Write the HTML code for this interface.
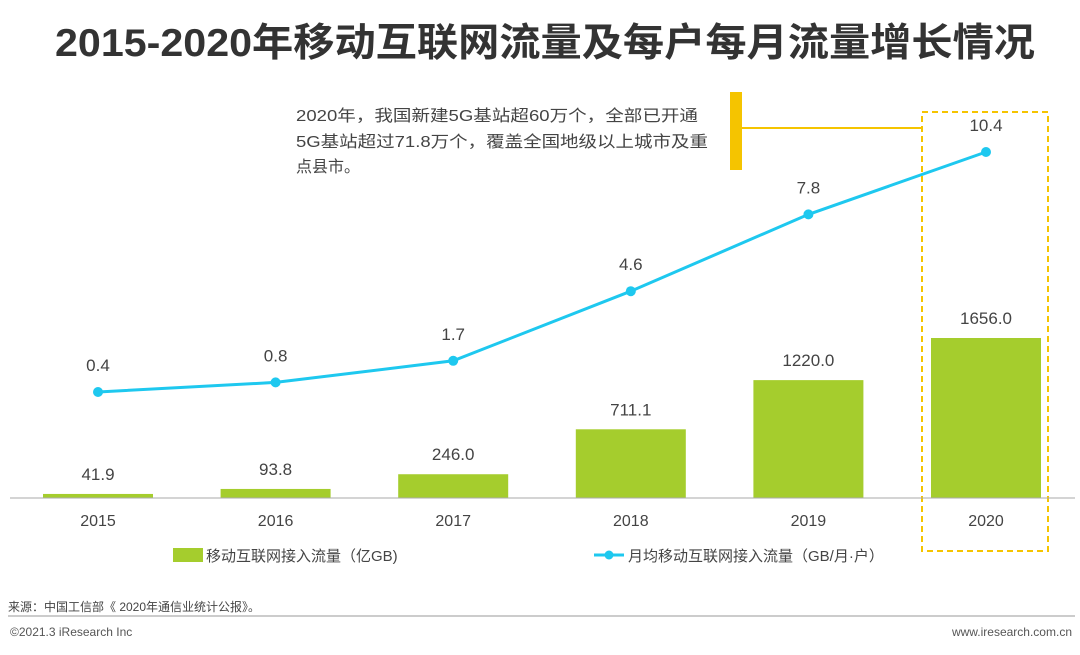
<!DOCTYPE html>
<html><head><meta charset="utf-8"><style>
body{margin:0;width:1080px;height:650px;background:#fff;overflow:hidden;font-family:"Liberation Sans","Noto Sans CJK SC",sans-serif;}
</style></head><body>
<svg width="1080" height="650" xmlns="http://www.w3.org/2000/svg" font-family="Liberation Sans, Noto Sans CJK SC, sans-serif">
<text x="545" y="56" text-anchor="middle" font-size="39" font-weight="bold" fill="#333" textLength="980" lengthAdjust="spacingAndGlyphs">2015-2020年移动互联网流量及每户每月流量增长情况</text>
<g id="chart"></g>
<rect x="922" y="112" width="126" height="439" fill="none" stroke="#f5c400" stroke-width="2" stroke-dasharray="6,4"/>
<rect x="730" y="92" width="12" height="78" fill="#f5c400"/>
<line x1="742" y1="128" x2="922" y2="128" stroke="#f5c400" stroke-width="2"/>
<g font-size="16" fill="#444">
<text x="296" y="121" textLength="402" lengthAdjust="spacingAndGlyphs">2020年，我国新建5G基站超60万个，全部已开通</text>
<text x="296" y="147" textLength="412" lengthAdjust="spacingAndGlyphs">5G基站超过71.8万个，覆盖全国地级以上城市及重</text>
<text x="296" y="172">点县市。</text>
</g>
<line x1="10" y1="498" x2="1075" y2="498" stroke="#aaa" stroke-width="1"/>
<g><rect x="173" y="548" width="30" height="14" fill="#a5cd2d"/><text x="206" y="561" font-size="15" fill="#444">移动互联网接入流量（亿GB)</text></g>
<g><line x1="594" y1="555" x2="624" y2="555" stroke="#1ec8ef" stroke-width="3"/><circle cx="609" cy="555" r="4.5" fill="#1ec8ef"/><text x="628" y="561" font-size="15" fill="#444">月均移动互联网接入流量（GB/月·户）</text></g>
<text x="8" y="611" font-size="12" fill="#444">来源：中国工信部《 2020年通信业统计公报》。</text>
<line x1="8" y1="616" x2="1075" y2="616" stroke="#999"/>
<text x="10" y="636" font-size="12" fill="#555">©2021.3 iResearch Inc</text>
<text x="1072" y="636" font-size="12" fill="#555" text-anchor="end">www.iresearch.com.cn</text>
</svg>
<script>
const categories=["2015","2016","2017","2018","2019","2020"];
const trafficValues=[41.9,93.8,246.0,711.1,1220.0,1656.0];
const perUserValues=[0.4,0.8,1.7,4.6,7.8,10.4];
const NS="http://www.w3.org/2000/svg";
const g=document.getElementById('chart');
const xPos=i=>98+i*177.6;
const yBar=v=>498-v*160/1656;
const yLine=v=>401.6-v*24;
function mk(t,a){const e=document.createElementNS(NS,t);for(const k in a)e.setAttribute(k,a[k]);g.appendChild(e);return e;}
categories.forEach((c,i)=>{
  const v=trafficValues[i];
  const b=mk('rect',{x:xPos(i)-55,y:yBar(v),width:110,height:498-yBar(v),fill:'#a5cd2d'});
  
  
  const t=mk('text',{x:xPos(i),y:yBar(v)-14,'text-anchor':'middle','font-size':17,fill:'#444'});t.textContent=v.toFixed(1);
  
  
  const xl=mk('text',{x:xPos(i),y:526,'text-anchor':'middle','font-size':16,fill:'#444'});xl.textContent=c;
  
  
});
const p=mk('polyline',{points:perUserValues.map((v,i)=>xPos(i)+','+yLine(v)).join(' '),fill:'none',stroke:'#1ec8ef','stroke-width':3});


perUserValues.forEach((v,i)=>{
  const c=mk('circle',{cx:xPos(i),cy:yLine(v),r:5,fill:'#1ec8ef'});
  
  
  const t=mk('text',{x:xPos(i),y:yLine(v)-21,'text-anchor':'middle','font-size':17,fill:'#444'});t.textContent=v.toFixed(1);
  
  
});
</script>
</body></html>
